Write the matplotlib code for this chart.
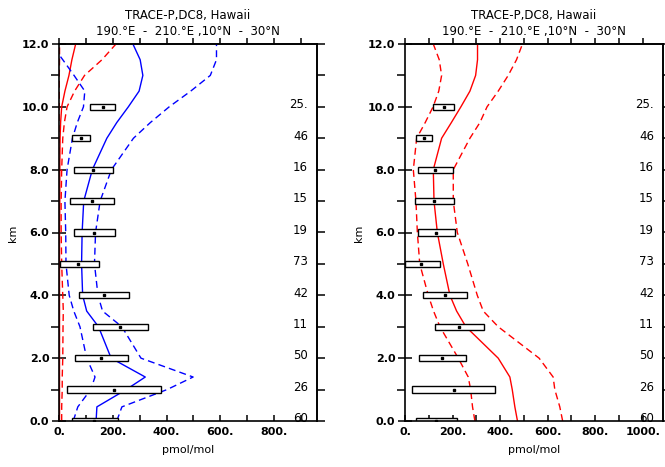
import numpy as np
import matplotlib
matplotlib.use("Agg")
import matplotlib.pyplot as plt
from matplotlib.ticker import FuncFormatter, MultipleLocator
from matplotlib.patches import Rectangle

"""
TRACE-P DC8 profiles over Hawaii: observed boxes and model profiles
"""

# altitude levels (km) of the model profiles
alt = [0.0, 0.45, 1.0, 1.4, 2.0, 3.0, 3.5, 4.0, 5.0, 6.0, 7.0, 8.0,
       9.0, 9.5, 10.0, 10.5, 11.0, 11.5, 12.0]

# left panel, blue profiles (median, 25th, 75th)
left_blue_med = [138, 141, 250, 321, 194, 147, 103, 88, 84, 86, 92, 124,
                 178, 215, 258, 298, 312, 302, 275]
left_blue_lo = [53, 70, 118, 134, 103, 78, 55, 38, 26, 25, 22, 30,
                50, 68, 91, 96, 56, 14, -29]
left_blue_hi = [215, 234, 402, 499, 305, 234, 162, 145, 132, 136, 153, 195,
                277, 340, 410, 490, 563, 586, 586]

# left panel, red profiles
left_red_med = [2, 2, 2, 2, 2, 2, 2, 2, 2, 2, 3, 3,
                4, 6, 10, 22, 37, 48, 62]
left_red_lo = [0, 0, 0, 0, 0, 0, 0, 0, 0, 0, 0, 0,
               0, 0, 1, 1, 1, 2, 2]
left_red_hi = [10, 10, 12, 12, 14, 15, 16, 14, 10, 8, 8, 10,
               14, 20, 30, 58, 95, 160, 212]

# right panel, red profiles
right_red_med = [473, 462, 451, 441, 392, 256, 217, 189, 161, 136, 122, 119,
                 154, 195, 235, 273, 297, 305, 305]
right_red_lo = [294, 284, 276, 266, 224, 147, 120, 98, 62, 52, 46, 35,
                49, 85, 118, 142, 154, 144, 119]
right_red_hi = [663, 651, 630, 623, 564, 392, 329, 304, 264, 220, 203, 203,
                273, 315, 345, 392, 434, 469, 494]

# observations binned by km
obs_alt = [0, 1, 2, 3, 4, 5, 6, 7, 8, 9, 10]
obs_lo = [48, 30, 59, 125, 76, 2, 55, 42, 56, 48, 116]
obs_hi = [218, 378, 257, 332, 262, 149, 210, 205, 202, 114, 208]
obs_med = [130, 204, 157, 227, 168, 69, 132, 121, 128, 80, 162]
obs_n = ["60", "26", "50", "11", "42", "73", "19", "15", "16", "46", "25."]

title1 = "TRACE-P,DC8, Hawaii"
title2 = "190.\u00b0E  -  210.\u00b0E ,10\u00b0N  -  30\u00b0N"

W, H = 665, 467
fig = plt.figure(figsize=(W / 100, H / 100), dpi=100)

panels = [
    dict(left=59, xmax=960, xticks=np.arange(0, 1000, 100),
         lines=[(left_red_med, "red", "-"), (left_red_lo, "red", "--"),
                (left_red_hi, "red", "--"),
                (left_blue_med, "blue", "-"), (left_blue_lo, "blue", "--"),
                (left_blue_hi, "blue", "--")]),
    dict(left=405, xmax=1085, xticks=np.arange(0, 1100, 100),
         lines=[(right_red_med, "red", "-"), (right_red_lo, "red", "--"),
                (right_red_hi, "red", "--")]),
]

fmt_x = FuncFormatter(lambda v, p: f"{int(round(v))}." if round(v) % 200 == 0 else "")
fmt_y = FuncFormatter(lambda v, p: f"{v:.1f}")

for pn in panels:
    ax = fig.add_axes([pn["left"] / W, (H - 421) / H, 258 / W, 377 / H])
    ax.set_xlim(0, pn["xmax"])
    ax.set_ylim(0, 12)

    for vals, col, ls in pn["lines"]:
        ln, = ax.plot(vals, alt, color=col, lw=1.0, ls=ls, zorder=2)
        if ls == "--":
            ln.set_dashes((5, 3))

    # observation boxes (kept under the spines)
    for a, lo, hi, md in zip(obs_alt, obs_lo, obs_hi, obs_med):
        ax.add_patch(Rectangle((lo, a - 0.1), hi - lo, 0.2, facecolor="white",
                               edgecolor="black", lw=1.0, zorder=2.2))
        ax.plot([md], [a], marker="s", ms=1.8, color="black", zorder=2.3)

    for a, n in zip(obs_alt, obs_n):
        ax.text(pn["xmax"] * 0.965, a + 0.07, n, ha="right", va="center",
                fontsize=8.5, zorder=5, clip_on=False)

    for sp in ax.spines.values():
        sp.set_linewidth(1.2)

    ax.set_xticks(pn["xticks"])
    ax.xaxis.set_major_formatter(fmt_x)
    ax.tick_params(axis="x", direction="in", length=4.5, width=1.1, pad=4,
                   labelsize=8)
    ax.yaxis.set_major_locator(MultipleLocator(2))
    ax.yaxis.set_minor_locator(MultipleLocator(1))
    ax.yaxis.set_major_formatter(fmt_y)
    ax.tick_params(axis="y", which="major", direction="inout", length=10,
                   width=1.1, pad=2, labelsize=8)
    ax.tick_params(axis="y", which="minor", direction="out", length=5.5,
                   width=1.1)
    for lab in ax.get_xticklabels() + ax.get_yticklabels():
        lab.set_fontweight("bold")

    top = ax.secondary_xaxis("top")
    top.set_xticks(pn["xticks"])
    top.xaxis.set_ticklabels([])
    top.tick_params(direction="out", length=4.5, width=1.1)
    top.spines["top"].set_linewidth(1.2)

    right = ax.secondary_yaxis("right")
    right.set_yticks(np.arange(0, 13, 1))
    right.yaxis.set_ticklabels([])
    right.tick_params(direction="out", length=6, width=1.1)
    right.spines["right"].set_linewidth(1.2)

    ax.set_xlabel("pmol/mol", fontsize=8, labelpad=6)
    cx = (pn["left"] + 129) / W
    fig.text(cx, 1 - 16 / H, title1, ha="center", va="center", fontsize=8.5)
    fig.text(cx, 1 - 31.5 / H, title2, ha="center", va="center", fontsize=8.5)
    fig.text((pn["left"] - 46) / W, 1 - 233 / H, "km", rotation=90,
             ha="center", va="center", fontsize=8)

fig.savefig("out.png", dpi=100)
